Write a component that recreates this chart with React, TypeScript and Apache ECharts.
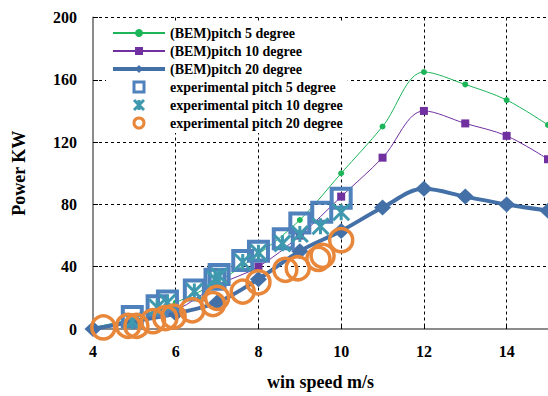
import React, { useEffect, useRef } from "react";
import * as echarts from "echarts";

const bemX = [4, 5, 6, 7, 8, 9, 10, 11, 12, 13, 14, 15];
const bem5 = [1, 7, 17, 30, 48, 70, 100, 130, 165, 157, 147, 131];
const bem10 = [0, 4, 12, 28, 40, 60, 85, 110, 140, 132, 124, 109];
const bem20 = [0, 5, 10, 17, 32, 50, 63, 78, 90, 85, 80, 76];

const exp5X = [4.95, 5.55, 5.8, 6.45, 6.95, 7.05, 7.62, 8.0, 8.6, 9.0, 9.53, 10.0];
const exp5Y = [8, 15, 18, 25, 32, 35, 44, 50, 58, 68, 75, 84];
const exp10X = [4.95, 5.55, 5.8, 6.45, 6.95, 7.05, 7.62, 8.0, 8.58, 9.0, 9.5, 10.0];
const exp10Y = [5, 14, 17, 24, 32, 34, 43, 49, 55, 61, 66, 75];
const exp20X = [4.25, 4.85, 5.05, 5.45, 5.75, 5.95, 6.4, 6.9, 7.0, 7.62, 8.0, 8.65, 8.95, 9.45, 9.55, 10.0];
const exp20Y = [1, 2, 2, 5, 7, 8, 12, 16, 20, 24, 30, 38, 39, 45, 47, 57];

const xTicks = { min: 4, max: 15, interval: 2 };
const yTicks = { min: 0, max: 200, interval: 40 };

const names = [
  "(BEM)pitch 5 degree",
  "(BEM)pitch 10 degree",
  "(BEM)pitch 20 degree",
  "experimental pitch 5 degree",
  "experimental pitch 10 degree",
  "experimental pitch 20 degree",
];

const zip = (xs: number[], ys: number[]) => xs.map((x, i) => [x, ys[i]]);

const FONT = "'Liberation Serif', 'Times New Roman', serif";
const SQUARE = "path://M0,0L10,0L10,10L0,10Z";
const STAR = "path://M0,0L10,10M10,0L0,10M5,0L5,10";

export default function App() {
  const ref = useRef<HTMLDivElement>(null);
  useEffect(() => {
    if (!ref.current) return;
    const chart = echarts.init(ref.current, undefined, { renderer: "svg" });
    const gridLine = { show: true, lineStyle: { color: "#000", type: [3, 3] as any, width: 1 } };
    chart.setOption({
      animation: false,
      backgroundColor: "#fff",
      grid: { left: 93, top: 17.5, bottom: 65, right: -3, containLabel: false },
      legend: {
        data: names.map((n, i) =>
          i === 2
            ? { name: n, lineStyle: { width: 4 } }
            : i >= 3
            ? { name: n, itemStyle: { borderWidth: 3 } }
            : { name: n }
        ),
        orient: "vertical",
        left: 106,
        top: 23,
        itemWidth: 52,
        itemHeight: 10,
        itemGap: 4,
        padding: [3, 5, 3, 5],
        backgroundColor: "#fff",
        textStyle: { fontFamily: FONT, fontWeight: "bold", fontSize: 14, color: "#000" },
      },
      xAxis: {
        type: "value",
        min: xTicks.min,
        max: xTicks.max,
        interval: xTicks.interval,
        name: "win speed m/s",
        nameLocation: "middle",
        nameGap: 44,
        nameTextStyle: { fontFamily: FONT, fontWeight: "bold", fontSize: 18, color: "#000" },
        axisLine: { show: true, onZero: false, lineStyle: { color: "#8c8c8c", width: 2 } },
        axisTick: { show: true, inside: true, length: 5, lineStyle: { color: "#000" } },
        axisLabel: {
          fontFamily: FONT,
          fontWeight: "bold",
          fontSize: 16,
          color: "#000",
          margin: 14,
          showMaxLabel: false,
        },
        splitLine: gridLine,
      },
      yAxis: {
        type: "value",
        min: yTicks.min,
        max: yTicks.max,
        interval: yTicks.interval,
        name: "Power KW",
        nameLocation: "middle",
        nameGap: 65,
        nameRotate: 90,
        nameTextStyle: { fontFamily: FONT, fontWeight: "bold", fontSize: 18, color: "#000" },
        axisLine: { show: true, lineStyle: { color: "#8c8c8c", width: 2 } },
        axisTick: { show: true, inside: true, length: 5, lineStyle: { color: "#000" } },
        axisLabel: { fontFamily: FONT, fontWeight: "bold", fontSize: 16, color: "#000", margin: 16 },
        splitLine: gridLine,
      },
      series: [
        {
          name: names[0],
          type: "line",
          smooth: 0.35,
          data: zip(bemX, bem5),
          symbol: "circle",
          symbolSize: 6,
          lineStyle: { color: "#1db559", width: 1 },
          itemStyle: { color: "#1db559" },
          z: 2,
        },
        {
          name: names[1],
          type: "line",
          smooth: 0.35,
          data: zip(bemX, bem10),
          symbol: "rect",
          symbolSize: 8,
          lineStyle: { color: "#7030a0", width: 1 },
          itemStyle: { color: "#7030a0" },
          z: 2,
        },
        {
          name: names[2],
          type: "line",
          smooth: 0.35,
          data: zip(bemX, bem20),
          symbol: "diamond",
          symbolSize: [17, 16],
          lineStyle: { color: "#4470a8", width: 4 },
          itemStyle: { color: "#4470a8" },
          z: 2,
        },
        {
          name: names[3],
          type: "scatter",
          data: zip(exp5X, exp5Y),
          symbol: SQUARE,
          symbolSize: 19,
          symbolKeepAspect: true,
          itemStyle: { color: "rgba(0,0,0,0)", borderColor: "#4f81bd", borderWidth: 4, opacity: 1 },
          z: 3,
        },
        {
          name: names[4],
          type: "scatter",
          data: zip(exp10X, exp10Y),
          symbol: STAR,
          symbolSize: 16,
          symbolKeepAspect: true,
          itemStyle: { color: "rgba(0,0,0,0)", borderColor: "#3f99ae", borderWidth: 3, opacity: 1 },
          z: 4,
        },
        {
          name: names[5],
          type: "scatter",
          data: zip(exp20X, exp20Y),
          symbol: "circle",
          symbolSize: 23,
          symbolKeepAspect: true,
          itemStyle: { color: "rgba(0,0,0,0)", borderColor: "#e8873a", borderWidth: 3.5, opacity: 1 },
          z: 5,
        },
      ],
    });
    return () => chart.dispose();
  }, []);
  return (
    <div
      ref={ref}
      style={{ position: "fixed", left: 0, top: 0, width: 548, height: 396, overflow: "hidden" }}
    />
  );
}
